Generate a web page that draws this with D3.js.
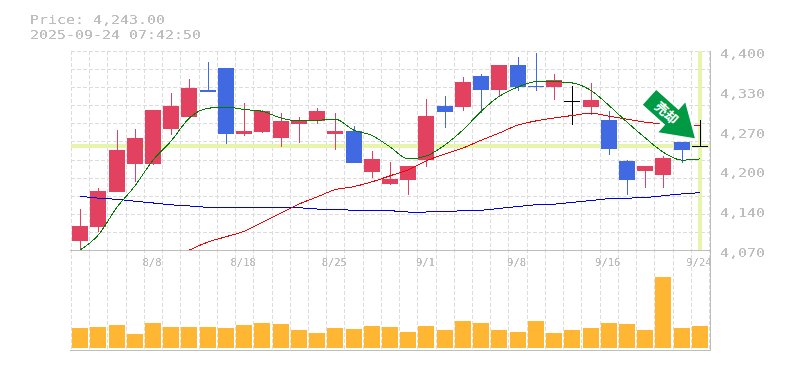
<!DOCTYPE html>
<html><head><meta charset="utf-8">
<script src="https://cdn.jsdelivr.net/npm/d3@7/dist/d3.min.js"></script>
<style>
html,body{margin:0;padding:0;background:#fff;overflow:hidden}
text{font-family:"DejaVu Sans Mono",monospace;fill:#bdbdbd}
</style></head><body>
<script>
const title=["Price: 4,243.00","2025-09-24 07:42:50"];
const lastPrice=4243;
const dayIndex=d3.range(35);
const dateLabels=[[4,"8/8"],[9,"8/18"],[14,"8/25"],[19,"9/1"],[24,"9/8"],[29,"9/16"],[34,"9/24"]];
const priceTicks=[4400,4334,4268,4202,4136,4070];
const priceLabels=["4,400","4,330","4,270","4,200","4,140","4,070"];
const open=[4085,4108,4166,4213,4213,4271,4291,4335,4372,4262,4266,4256,4279,4284,4262,4267,4199,4179,4186,4219,4309,4307,4359,4335,4377,4342,4340,4317,4307,4286,4218,4201,4194,4249,4243];
const high=[4138,4173,4269,4271,4302,4330,4354,4382,4372,4314,4302,4297,4291,4305,4297,4276,4234,4216,4209,4320,4325,4357,4362,4377,4390,4397,4362,4342,4347,4301,4219,4209,4226,4249,4286];
const low=[4070,4100,4166,4183,4211,4261,4289,4332,4246,4259,4264,4241,4247,4279,4236,4214,4189,4178,4161,4208,4272,4301,4297,4324,4334,4334,4319,4277,4294,4228,4161,4173,4173,4214,4243];
const close=[4110,4168,4236,4256,4302,4309,4339,4332,4262,4267,4301,4284,4286,4301,4267,4214,4221,4188,4209,4292,4299,4349,4335,4377,4340,4340,4352,4317,4319,4237,4186,4209,4223,4236,4243];
const ma5=[4070,4095,4140,4176,4219,4251,4289,4305,4307,4303,4300,4289,4284,4285,4287,4269,4260,4241,4221,4226,4244,4269,4300,4325,4340,4349,4349,4347,4335,4310,4282,4256,4232,4219,4221];
const ma25=[null,null,null,null,null,null,4070,4083,4092,4101,4116,4131,4146,4158,4170,4175,4183,4193,4203,4218,4229,4239,4252,4264,4277,4284,4289,4293,4297,4292,4287,4282,4279,4277,4277];
const ma75=[4159,4156,4154,4151,4148,4145,4143,4141,4141,4141,4141,4141,4140,4138,4137,4136,4135,4135,4133,4133,4134,4135,4136,4139,4142,4145,4146,4149,4152,4155,4156,4157,4160,4163,4165];
const volume=[20,21,23,14,25,21,21,21,20,23,25,24,18,15,20,19,22,21,16,22,18,27,25,18,16,27,15,18,20,25,24,18,71,20,22];
const arrowLabel="売却";

const svg=d3.select("body").append("svg").attr("width",785).attr("height",370).style("display","block");
const x=d3.scaleBand().domain(dayIndex).range([71,709]).paddingInner(0.12).paddingOuter(0.06);
const xc=i=>x(i)+x.bandwidth()/2;
const y=d3.scaleLinear().domain([4070,4400]).range([250,51]);
const yV=d3.scaleLinear().domain([0,100]).range([348,248]);
const gridX=d3.range(0,36).map(i=>71+i*(638/35));
const gridY=d3.range(4400,4070,-30);

// sharpen text edges, like the bitmap font of the reference
const f=svg.append("filter").attr("id","sharp").attr("x","-5%").attr("y","-20%").attr("width","110%").attr("height","140%");
f.append("feComponentTransfer").append("feFuncA").attr("type","linear").attr("slope",2.6).attr("intercept",-0.55);

const textLayer=svg.append("g").attr("filter","url(#sharp)");
textLayer.selectAll("text.t").data(title).join("text").attr("class","t")
  .attr("x",30).attr("y",(d,i)=>23.5+i*15).attr("font-size",12.8)
  .attr("textLength",d=>d.length*9).attr("lengthAdjust","spacingAndGlyphs").text(d=>d);

// grid
const g=svg.append("g").attr("stroke","#dcdcdc").attr("stroke-dasharray","4 2").attr("shape-rendering","crispEdges");
g.selectAll("line.v").data(gridX).join("line").attr("x1",d=>Math.round(d)).attr("x2",d=>Math.round(d)).attr("y1",51).attr("y2",350);
g.selectAll("line.h").data(gridY).join("line").attr("x1",71).attr("x2",710).attr("y1",d=>Math.round(y(d))).attr("y2",d=>Math.round(y(d)));

// last-price guides
svg.append("line").attr("x1",71).attr("x2",710).attr("y1",y(lastPrice)).attr("y2",y(lastPrice)).attr("stroke","#e6f5ab").attr("stroke-width",4).attr("shape-rendering","crispEdges");
svg.append("line").attr("x1",xc(34)).attr("x2",xc(34)).attr("y1",51).attr("y2",250).attr("stroke","#e6f5ab").attr("stroke-width",4).attr("shape-rendering","crispEdges");

// frame
const frame=svg.append("g").attr("stroke","#bdbdbd").attr("shape-rendering","crispEdges");
frame.append("line").attr("x1",70).attr("x2",711).attr("y1",250).attr("y2",250);
frame.append("line").attr("x1",70).attr("x2",711).attr("y1",350).attr("y2",350);
frame.append("line").attr("x1",710).attr("x2",710).attr("y1",51).attr("y2",350);

// axis labels
const axisText=svg.append("g").attr("filter","url(#sharp)");
axisText.selectAll("text.p").data(priceTicks).join("text").attr("class","p")
  .attr("x",720).attr("y",d=>y(d)+7).attr("font-size",12.8)
  .attr("textLength",45).attr("lengthAdjust","spacingAndGlyphs").text((d,i)=>priceLabels[i]);
axisText.selectAll("text.d").data(dateLabels).join("text").attr("class","d")
  .attr("x",d=>xc(d[0])-1).attr("y",266).attr("text-anchor","middle").attr("font-size",10.5).text(d=>d[1]);

// volume
svg.selectAll("rect.vol").data(volume).join("rect").attr("class","vol").attr("shape-rendering","crispEdges")
  .attr("x",(d,i)=>Math.round(xc(i)-8)).attr("width",16).attr("y",d=>yV(d)).attr("height",d=>yV(0)-yV(d)).attr("fill","#ffb733");

// candles
const col=i=>close[i]>open[i]?"#e2425f":close[i]<open[i]?"#4169e1":"#000";
const candles=svg.append("g").attr("shape-rendering","crispEdges");
dayIndex.forEach(i=>{
  const cx=Math.round(xc(i)),c=col(i);
  candles.append("line").attr("x1",cx).attr("x2",cx).attr("y1",y(high[i])).attr("y2",y(low[i])).attr("stroke",c);
  const top=y(Math.max(open[i],close[i])),bot=y(Math.min(open[i],close[i]));
  candles.append("rect").attr("x",cx-8).attr("width",16).attr("y",top).attr("height",Math.max(bot-top,1)).attr("fill",c);
});

// moving averages
const line=d3.line().defined(d=>d!==null).curve(d3.curveMonotoneX).x((d,i)=>xc(i)).y(d=>y(d));
svg.append("clipPath").attr("id","c").append("rect").attr("x",71).attr("y",51).attr("width",638).attr("height",199);
[[ma75,"#0000e6",1],[ma25,"#f00000",1],[ma5,"#007a00",1]].forEach(([s,c,w])=>{
  svg.append("path").attr("d",line(s)).attr("fill","none").attr("stroke",c).attr("stroke-width",w).attr("shape-rendering","crispEdges").attr("clip-path","url(#c)");
});

// sell arrow: the tip sits just above the last price
const arrow=svg.append("g").attr("transform",`translate(${xc(34)-5},${y(lastPrice)-7.5}) rotate(42)`);
arrow.append("path").attr("d","M0,0 L-31,-20 L-31,-10 L-61,-10 L-61,10 L-31,10 L-31,20 Z")
  .attr("fill","#009944").attr("stroke","#fff").attr("stroke-width",5).attr("paint-order","stroke").attr("stroke-linejoin","miter");
arrow.append("text").attr("x",-38).attr("y",5).attr("text-anchor","middle")
  .style("font-family","'Noto Sans CJK JP'").style("fill","#fff").style("font-weight","700").attr("font-size",13).text(arrowLabel);
</script>
</body></html>
